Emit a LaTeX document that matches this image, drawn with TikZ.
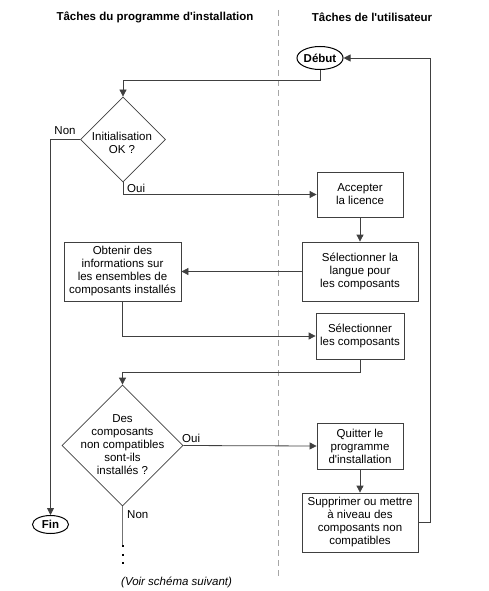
\documentclass[tikz,border=0pt]{standalone}
\usepackage{fontspec}
\setmainfont{Liberation Sans}
\usetikzlibrary{shapes.geometric,arrows.meta}
\begin{document}
\begin{tikzpicture}[x=1pt,y=-1pt,
  every node/.style={font=\fontsize{11.5}{13}\selectfont},
  hdr/.style={font=\bfseries\fontsize{11.5}{13}\selectfont},
  ln/.style={draw=black!75, line width=0.8pt},
  arr/.style={ln, -{Triangle[length=7pt,width=7pt]}},
  box/.style={draw=black!75, line width=0.8pt, rectangle, inner sep=0pt, align=center},
  dia/.style={draw=black!75, line width=0.8pt, diamond, inner sep=0pt},
  term/.style={draw=black, line width=1pt, ellipse, inner sep=0pt, font=\bfseries\fontsize{11.5}{13}\selectfont},
  dtxt/.style={align=center, inner sep=0pt}]
\useasboundingbox (0,0) rectangle (488,591);

\node[hdr] (h1) at (155,17) {Tâches du programme d\textquotesingle installation};
\node[hdr] (h2) at (372,17) {Tâches de l\textquotesingle utilisateur};
\coordinate (dtop) at (278,10);
\coordinate (dbot) at (278,577);
\draw[gray!70, line width=0.7pt, dash pattern=on 6pt off 4pt] (dtop) -- (dbot);

\node[term, minimum width=40pt, minimum height=23pt] (debut) at (320,58) {Début};
\node[dia, minimum width=85pt, minimum height=85pt] (d1) at (123,139.5) {};
\node[dtxt] (d1t) at (122,143) {Initialisation\\OK ?};
\node[box, minimum width=86pt, minimum height=45pt] (acc) at (360,194.5) {Accepter\\la licence};
\node[box, minimum width=116pt, minimum height=59pt] (lang) at (360,271.5) {Sélectionner la\\langue pour\\les composants};
\node[box, minimum width=117pt, minimum height=59pt] (obt) at (122.5,271.5) {Obtenir des\\informations sur\\les ensembles de\\composants installés};
\node[box, minimum width=88pt, minimum height=46pt] (selc) at (360,336) {Sélectionner\\les composants};
\node[dia, minimum width=121pt, minimum height=121pt] (d2) at (122.5,445.5) {};
\node[dtxt] (d2t) at (122.5,444.5) {Des\\composants\\non compatibles\\sont-ils\\installés ?};
\node[box, minimum width=86pt, minimum height=46pt] (quit) at (360,446) {Quitter le\\programme\\d\textquotesingle installation};
\node[box, minimum width=116pt, minimum height=59pt] (supp) at (360,522.5) {Supprimer ou mettre\\à niveau des\\composants non\\compatibles};
\node[term, minimum width=36pt, minimum height=18pt] (fin) at (50.5,524.5) {Fin};

\node (non1) at (65,131) {Non};
\node[anchor=west, inner sep=0pt] (oui1) at (127,188) {Oui};
\node[anchor=west, inner sep=0pt] (oui2) at (182,438) {Oui};
\node[anchor=west, inner sep=0pt] (non2) at (127,515) {Non};
\node[anchor=west, inner sep=0pt, font=\itshape\fontsize{11.5}{13}\selectfont] (voir) at (121,582) {(Voir schéma suivant)};

\draw[arr] (debut.south) -- ++(0,10.5) -| (d1.north);
\draw[arr] (d1.west) -| (fin.north);
\draw[arr] (d1.south) |- (acc.west);
\draw[arr] (acc.south) -- (lang.north);
\draw[arr] (lang.west) -- (obt.east);
\draw[arr] (obt.south) |- (selc.west);
\draw[arr] (selc.south) -- ++(0,13) -| (d2.north);
\draw[arr] (d2.east) -- (quit.west);
\draw[arr] (quit.south) -- (supp.north);
\draw[arr] (supp.east) -- ++(12,0) |- (debut.east);
\draw[ln, draw=black!55] (d2.south) -- ++(0,41) coordinate (dd);
\draw[black, line width=2pt, dash pattern=on 2pt off 6.5pt] ([yshift=2pt]dd) -- ++(0,25);
\end{tikzpicture}
\end{document}
